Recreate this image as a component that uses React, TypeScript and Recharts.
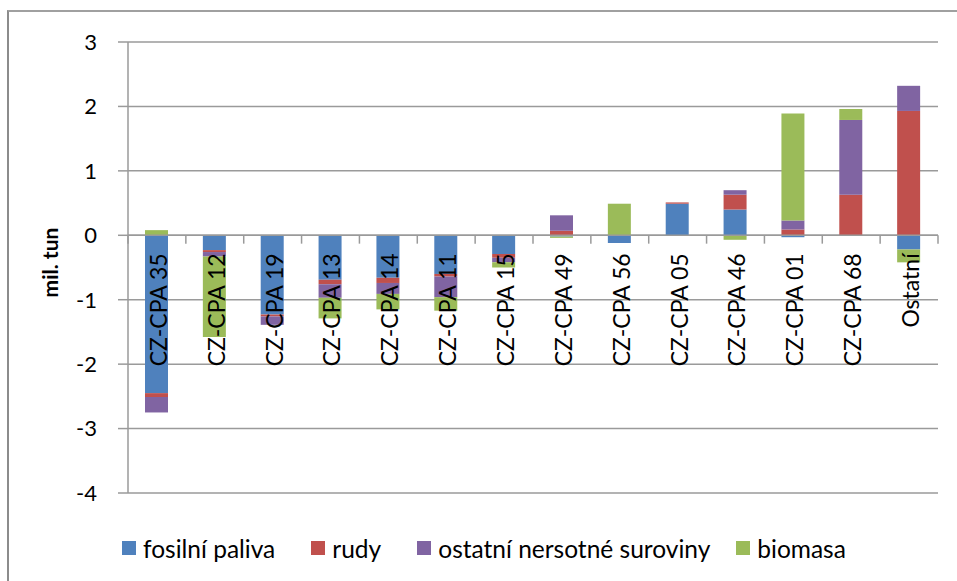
import React from 'react';
import { BarChart, Bar, XAxis, YAxis, CartesianGrid, ReferenceLine, ReferenceArea, ReferenceDot } from 'recharts';

const categories = ['CZ-CPA 35', 'CZ-CPA 12', 'CZ-CPA 19', 'CZ-CPA 13', 'CZ-CPA 14', 'CZ-CPA 11', 'CZ-CPA 15', 'CZ-CPA 49', 'CZ-CPA 56', 'CZ-CPA 05', 'CZ-CPA 46', 'CZ-CPA 01', 'CZ-CPA 68', 'Ostatní'];
const fosilniPaliva = [-2.45, -0.23, -1.23, -0.69, -0.66, -0.6, -0.29, -0.02, -0.12, 0.49, 0.4, -0.03, 0, -0.22];
const rudy = [-0.06, -0.03, -0.03, -0.07, -0.08, -0.04, -0.06, 0.07, 0, 0.02, 0.23, 0.09, 0.63, 1.93];
const ostatniSuroviny = [-0.24, -0.07, -0.13, -0.21, -0.17, -0.32, -0.07, 0.24, 0, 0, 0.07, 0.14, 1.16, 0.39];
const biomasa = [0.08, -1.25, 0, -0.32, -0.24, -0.21, -0.08, -0.02, 0.49, 0, -0.07, 1.66, 0.17, -0.2];
const yTicks = [-4, -3, -2, -1, 0, 1, 2, 3];
const seriesNames = ['fosilní paliva', 'rudy', 'ostatní nersotné suroviny', 'biomasa'];
const seriesKeys = ['f', 'r', 'o', 'b'];
const colors = ['#4f81bd', '#c0504d', '#8064a2', '#9bbb59'];

const FONT = 'Lato, "Open Sans", sans-serif';
const GRID = '#9a9a9a';

const data = categories.map((c, i) => ({
  cat: c,
  f: fosilniPaliva[i],
  r: rudy[i],
  o: ostatniSuroviny[i],
  b: biomasa[i],
}));

const AxisTitle = (props: any) => {
  const vb = props.viewBox || { x: 0, y: 42, width: 128, height: 451 };
  const tx = vb.x + 58;
  const ty = vb.y + vb.height / 2 - 5;
  return (
    <text
      x={tx}
      y={ty}
      transform={`rotate(-90 ${tx} ${ty})`}
      textAnchor="middle"
      fontSize={21}
      fontWeight="bold"
      fill="#000"
      fontFamily={FONT}
    >
      mil. tun
    </text>
  );
};

// Tick mark at the start of each category band (and at the end of the last one).
const makeTickShape = (isLast: boolean) => (props: any) => {
  const x = Number(props.x);
  const y = Number(props.y);
  const w = Number(props.width);
  const h = Number(props.height);
  if (!isFinite(x) || !isFinite(y)) return <g />;
  return (
    <g>
      <line x1={x} x2={x} y1={y} y2={y + h} stroke={GRID} strokeWidth={1.5} />
      {isLast ? <line x1={x + w} x2={x + w} y1={y} y2={y + h} stroke={GRID} strokeWidth={1.5} /> : null}
    </g>
  );
};

// Rotated category label anchored at the category centre on the zero line.
const makeLabelShape = (label: string) => (props: any) => {
  const cxv = Number(props.cx);
  const cyv = Number(props.cy);
  if (!isFinite(cxv) || !isFinite(cyv)) return <g />;
  const tx = cxv + 10;
  const ty = cyv + 18;
  return (
    <text
      x={tx}
      y={ty}
      transform={`rotate(-90 ${tx} ${ty})`}
      textAnchor="end"
      fontSize={23}
      fill="#000"
      fontFamily={FONT}
    >
      {label}
    </text>
  );
};

export default function App() {
  return (
    <div style={{ position: 'absolute', left: 0, top: 0, width: 957, height: 581, overflow: 'hidden', background: '#fff' }}>
      <div
        style={{
          position: 'absolute',
          left: 7,
          top: 10,
          width: 1000,
          height: 620,
          borderLeft: '2px solid #8c8c8c',
          borderTop: '2px solid #a0a0a0',
        }}
      />
      <div style={{ position: 'absolute', left: 0, top: 0 }}>
        <BarChart
          width={957}
          height={581}
          data={data}
          stackOffset="sign"
          margin={{ top: 42, right: 19, bottom: 88, left: 0 }}
        >
          <CartesianGrid vertical={false} stroke={GRID} strokeWidth={1.5} />
          <XAxis dataKey="cat" hide />
          <YAxis
            domain={[-4, 3]}
            ticks={yTicks}
            interval={0}
            width={128}
            tickSize={10}
            tickMargin={21}
            axisLine={{ stroke: GRID, strokeWidth: 1.5 }}
            tickLine={{ stroke: GRID, strokeWidth: 1.5 }}
            tick={{ fill: '#000', fontSize: 22, fontFamily: FONT }}
            label={(p: any) => <AxisTitle {...p} />}
          />
          {seriesKeys.map((k, i) => (
            <Bar
              key={k}
              dataKey={k}
              name={seriesNames[i]}
              stackId="s"
              fill={colors[i]}
              barSize={23}
              isAnimationActive={false}
            />
          ))}
          <ReferenceLine y={0} stroke={GRID} strokeWidth={1.5} />
          {categories.map((c, i) => (
            <ReferenceArea
              key={'t' + c}
              x1={c}
              x2={c}
              y1={0}
              y2={-0.13}
              ifOverflow="visible"
              shape={makeTickShape(i === categories.length - 1)}
            />
          ))}
          {categories.map((c) => (
            <ReferenceDot
              key={'l' + c}
              x={c}
              y={0}
              r={1}
              ifOverflow="visible"
              shape={makeLabelShape(c)}
            />
          ))}
        </BarChart>
      </div>
      <div
        style={{
          position: 'absolute',
          left: 122,
          top: 534,
          height: 28,
          display: 'flex',
          alignItems: 'center',
          fontFamily: FONT,
          fontSize: 24.5,
          color: '#000',
          whiteSpace: 'nowrap',
        }}
      >
        {seriesNames.map((n, i) => (
          <div key={n} style={{ display: 'flex', alignItems: 'center', marginRight: i === 2 ? 26 : 36 }}>
            <span style={{ display: 'inline-block', width: 14, height: 14, background: colors[i], marginRight: 7 }} />
            <span>{n}</span>
          </div>
        ))}
      </div>
    </div>
  );
}
